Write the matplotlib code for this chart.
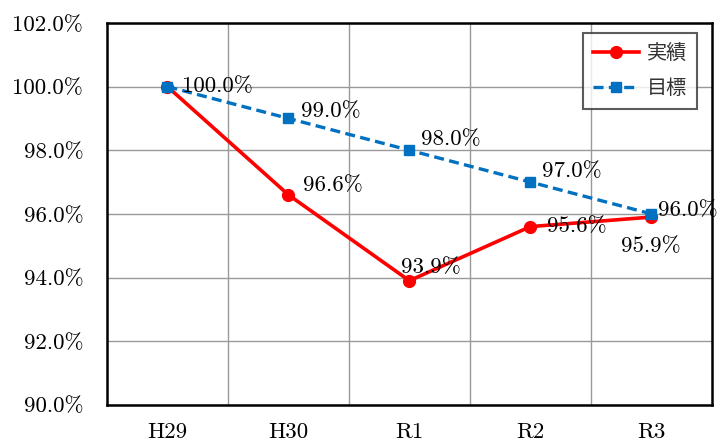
import matplotlib
matplotlib.use('Agg')
import matplotlib.pyplot as plt

# データ
years = ['H29', 'H30', 'R1', 'R2', 'R3']
jisseki = [100.0, 96.6, 93.9, 95.6, 95.9]
mokuhyo = [100.0, 99.0, 98.0, 97.0, 96.0]
yticks = [90, 92, 94, 96, 98, 100, 102]

plt.rcParams['font.family'] = ['cmr10', 'Noto Sans CJK JP']
plt.rcParams['axes.formatter.use_mathtext'] = True

fig = plt.figure(figsize=(7.22, 4.41), dpi=100)
ax = fig.add_axes([0.148, 0.082, 0.838, 0.866])

x = list(range(len(years)))
ax.plot(x, jisseki, color='#FF0000', lw=2.6, marker='o', ms=8.5, label='実績', zorder=3)
ax.plot(x, mokuhyo, color='#0070C0', lw=2.4, ls=(0, (3, 1.6)), marker='s', ms=7.5,
        label='目標', zorder=4)

# ラベル (オフセットはピクセル)
fs = 16.5
off_j = [None, (15, 9), (-8, 13), (17, 0), (-30, -29)]
for i, v in enumerate(jisseki):
    if off_j[i] is None:
        continue
    ax.annotate(f'{v:.1f}%', (i, v), xytext=off_j[i], textcoords='offset pixels',
                fontsize=fs, va='center', ha='left')
off_m = [(15, 0), (13, 7), (12, 11), (12, 11), (7, 4)]
for i, v in enumerate(mokuhyo):
    ax.annotate(f'{v:.1f}%', (i, v), xytext=off_m[i], textcoords='offset pixels',
                fontsize=fs, va='center', ha='left', zorder=5)

ax.set_xlim(-0.5, 4.5)
ax.set_ylim(90, 102)
ax.set_xticks(x)
ax.set_xticklabels(years, fontsize=fs)
ax.set_yticks(yticks)
ax.set_yticklabels([f'{t:.1f}%' for t in yticks], fontsize=fs)
ax.set_xticks([i + 0.5 for i in range(4)], minor=True)
ax.grid(True, axis='y', color='#999999', lw=1)
ax.grid(True, axis='x', which='minor', color='#999999', lw=1)
ax.tick_params(axis='x', which='both', length=0, pad=13)
ax.tick_params(axis='y', which='both', length=0, pad=17)
for s in ax.spines.values():
    s.set_linewidth(1.8)
    s.set_color('black')

leg = ax.legend(loc='upper right', prop={'family': 'Noto Sans CJK JP', 'size': 14.5},
                frameon=True, fancybox=False, edgecolor='#333333',
                handlelength=2.3, handletextpad=0.4, borderpad=0.5,
                labelspacing=0.7, borderaxespad=0,
                bbox_to_anchor=(0.976, 0.974))
leg.get_frame().set_linewidth(1.5)
for t in leg.get_texts():
    t.set_color('#333333')

fig.savefig('out.png', dpi=100)
